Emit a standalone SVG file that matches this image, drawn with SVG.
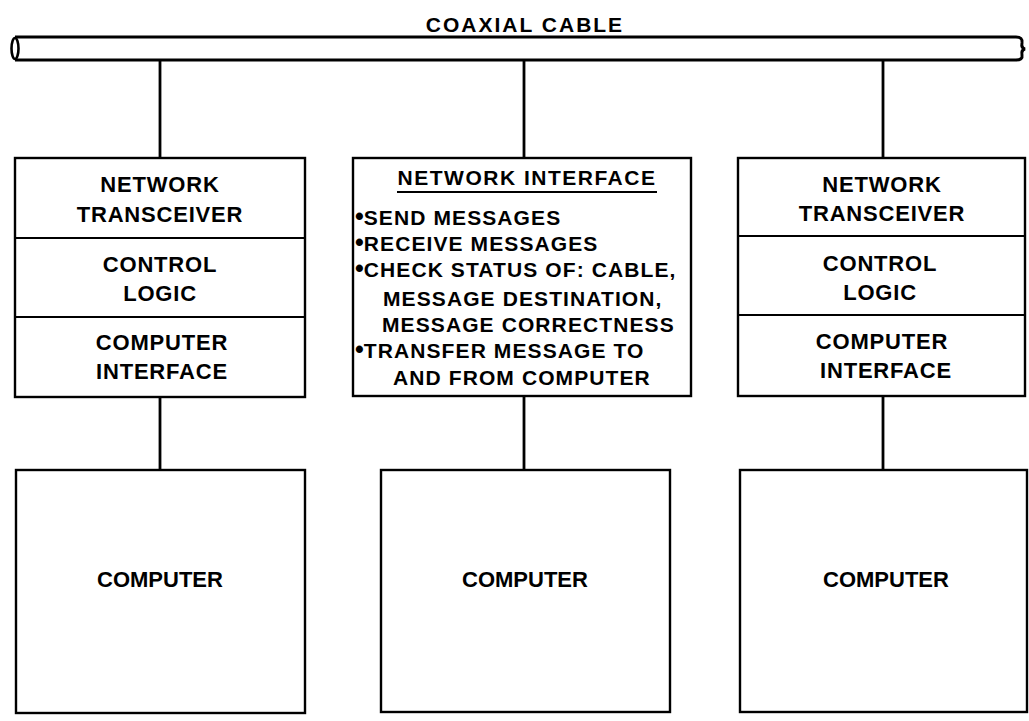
<svg xmlns="http://www.w3.org/2000/svg" width="1029" height="721" viewBox="0 0 1029 721">
<style>
.box{fill:#fff;stroke:#000;stroke-width:2.4}
.div{stroke:#000;stroke-width:2.2;fill:none}
.wire{stroke:#000;stroke-width:2.8;fill:none}
.cable{stroke:#000;stroke-width:3;fill:none}
text{font-family:"Liberation Sans",Arial,sans-serif;font-weight:bold;fill:#000;font-size:22px}
.c{text-anchor:middle;letter-spacing:0.8px}
.l{letter-spacing:1.1px;font-size:21px}
.b{font-size:25px;letter-spacing:0}
.comp{text-anchor:middle;font-size:22px;letter-spacing:0}
</style>
<rect width="1029" height="721" fill="#fff"/>
<g id="cable">
<text x="525" y="32" class="c" style="letter-spacing:2px;font-size:21px">COAXIAL CABLE</text>
<path class="cable" d="M15,37 H1016 M15,60 H1016"/>
<ellipse cx="15" cy="48.5" rx="3.5" ry="10.5" class="cable" style="stroke-width:2.6"/>
<path class="cable" d="M1016,37 Q1023,37 1022,43 Q1021,48 1025,49 Q1021,50 1022,55 Q1023,60 1016,60"/>
</g>
<g id="connectors">
<line class="wire" x1="160" y1="61" x2="160" y2="158"/>
<line class="wire" x1="524" y1="61" x2="524" y2="158"/>
<line class="wire" x1="883" y1="61" x2="883" y2="158"/>
<line class="wire" x1="160" y1="397" x2="160" y2="470"/>
<line class="wire" x1="524" y1="396" x2="524" y2="470"/>
<line class="wire" x1="883" y1="396" x2="883" y2="470"/>
</g>
<g id="interface-left">
<rect class="box" x="15" y="158" width="290" height="239"/>
<line class="div" x1="15" y1="238" x2="305" y2="238"/>
<line class="div" x1="15" y1="317" x2="305" y2="317"/>
<text x="160" y="192" class="c">NETWORK</text>
<text x="160" y="222" class="c">TRANSCEIVER</text>
<text x="160" y="272" class="c">CONTROL</text>
<text x="160" y="301" class="c">LOGIC</text>
<text x="162" y="350" class="c">COMPUTER</text>
<text x="162" y="379" class="c">INTERFACE</text>
</g>
<g id="interface-middle">
<rect class="box" x="353" y="158" width="338" height="238"/>
<text x="527" y="185" class="c" style="letter-spacing:1.5px;font-size:21px">NETWORK INTERFACE</text>
<line x1="397" y1="192" x2="657" y2="192" stroke="#000" stroke-width="2"/>
<text x="355" y="225" class="l"><tspan class="b">•</tspan>SEND MESSAGES</text>
<text x="355" y="251" class="l"><tspan class="b">•</tspan>RECEIVE MESSAGES</text>
<text x="355" y="277" class="l"><tspan class="b">•</tspan>CHECK STATUS OF: CABLE,</text>
<text x="383" y="306" class="l">MESSAGE DESTINATION,</text>
<text x="382" y="332" class="l">MESSAGE CORRECTNESS</text>
<text x="355" y="358" class="l"><tspan class="b">•</tspan>TRANSFER  MESSAGE TO</text>
<text x="393" y="385" class="l">AND FROM COMPUTER</text>
</g>
<g id="interface-right">
<rect class="box" x="738" y="158" width="287" height="238"/>
<line class="div" x1="738" y1="236" x2="1025" y2="236"/>
<line class="div" x1="738" y1="315" x2="1025" y2="315"/>
<text x="882" y="192" class="c">NETWORK</text>
<text x="882" y="221" class="c">TRANSCEIVER</text>
<text x="880" y="271" class="c">CONTROL</text>
<text x="880" y="300" class="c">LOGIC</text>
<text x="882" y="349" class="c">COMPUTER</text>
<text x="886" y="378" class="c">INTERFACE</text>
</g>
<g id="computer-left">
<rect class="box" x="16" y="470" width="289" height="243"/>
<text x="160" y="587" class="comp">COMPUTER</text>
</g>
<g id="computer-middle">
<rect class="box" x="381" y="470" width="289" height="242"/>
<text x="525" y="587" class="comp">COMPUTER</text>
</g>
<g id="computer-right">
<rect class="box" x="740" y="470" width="287" height="242"/>
<text x="886" y="587" class="comp">COMPUTER</text>
</g>
</svg>
